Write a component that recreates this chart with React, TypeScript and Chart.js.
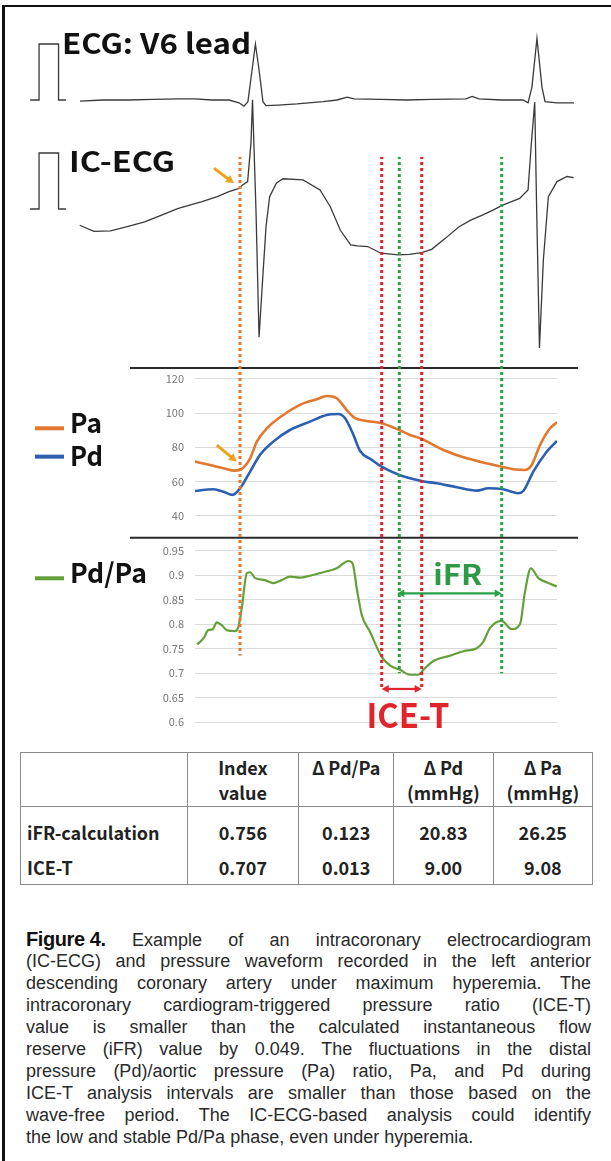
import React, { useEffect, useRef } from 'react';
import { Chart, registerables } from 'chart.js';
Chart.register(...registerables);

// ---------------- data (time in ms) ----------------
const T_END = 1300;

// Surface ECG, lead V6 (mV)
const v6Time = [-413, -330, -240, -150, -60, 0, 60, 122, 158, 176, 190, 205, 217, 230, 244, 255, 300, 366, 460, 510, 546, 571, 668, 760, 851, 973, 995, 1020, 1100, 1178, 1196, 1210, 1228, 1246, 1257, 1300, 1361];
const v6Values = [-0.02, 0.0, 0.0, 0.01, 0.02, 0.02, 0.0, 0.0, -0.05, -0.11, -0.03, 0.54, 1.0, 0.54, -0.03, -0.1, -0.09, -0.07, -0.03, 0.0, 0.05, 0.02, 0.01, 0.0, 0.01, 0.02, 0.065, 0.02, 0.0, 0.0, -0.05, 0.23, 1.1, 0.23, -0.03, -0.05, -0.05];

// Intracoronary ECG (mV)
const icTime = [-414, -363, -303, -240, -181, -120, -60, 25, 80, 122, 153, 162, 171, 189, 201, 206.5, 219, 230, 243.5, 255, 268, 292, 316, 388, 449, 486, 522, 559, 583, 620, 668, 729, 770, 814, 850, 900, 947, 990, 1032, 1070, 1105, 1166, 1196, 1208, 1220, 1227, 1237, 1251, 1269, 1300, 1336, 1360];
const icValues = [-0.29, -0.4, -0.39, -0.31, -0.23, -0.11, 0.01, 0.13, 0.22, 0.31, 0.36, 0.38, 0.43, 0.49, 1.18, 1.95, -0.02, -2.29, -1.21, -0.32, 0.22, 0.46, 0.54, 0.52, 0.34, 0.04, -0.38, -0.64, -0.66, -0.67, -0.79, -0.82, -0.81, -0.78, -0.72, -0.52, -0.32, -0.2, -0.11, -0.02, 0.07, 0.19, 0.34, 1.18, 1.91, -0.02, -2.48, -0.91, 0.22, 0.49, 0.58, 0.56];

// 1 mV calibration pulse
const calTime = [-592, -560, -560, -490, -490, -463];
const calValues = [0, 0, 1, 1, 0, 0];

// Aortic pressure Pa (mmHg)
const paTime = [0, 54, 102, 144, 168, 198, 222, 258, 317, 377, 437, 473, 509, 545, 575, 617, 670, 734, 772, 814, 892, 976, 1059, 1101, 1143, 1185, 1209, 1239, 1275, 1300];
const paValues = [71.6, 69.6, 67.7, 66.3, 67.3, 73.5, 83.3, 91.1, 98.9, 104.8, 108.1, 110.0, 108.7, 101.8, 97.0, 95.4, 94.1, 90.1, 87.2, 84.9, 78.4, 73.5, 70.2, 68.6, 67.1, 66.7, 69.6, 81.3, 91.1, 94.6];

// Distal pressure Pd (mmHg)
const pdTime = [0, 66, 102, 135, 162, 198, 233, 281, 341, 413, 473, 515, 539, 569, 593, 635, 670, 734, 814, 868, 940, 1012, 1053, 1101, 1137, 1161, 1179, 1215, 1263, 1300];
const pdValues = [54.4, 55.4, 54.0, 52.1, 56.0, 65.7, 75.5, 83.3, 90.1, 95.0, 98.9, 99.5, 97.0, 87.2, 77.8, 72.6, 68.6, 63.8, 60.3, 58.9, 56.6, 54.6, 56.0, 55.6, 54.0, 53.1, 54.4, 65.7, 77.4, 83.7];

// Pd/Pa ratio
const ratioTime = [8, 30, 48, 64, 78, 96, 114, 144, 156, 168, 186, 198, 216, 251, 281, 311, 341, 377, 413, 461, 509, 551, 566, 581, 599, 628, 670, 700, 736, 772, 802, 820, 856, 916, 964, 1012, 1035, 1059, 1101, 1137, 1167, 1185, 1206, 1233, 1269, 1299];
const ratioValues = [0.759, 0.771, 0.788, 0.79, 0.804, 0.798, 0.788, 0.786, 0.795, 0.833, 0.904, 0.906, 0.894, 0.89, 0.884, 0.89, 0.897, 0.895, 0.899, 0.906, 0.914, 0.929, 0.924, 0.873, 0.819, 0.785, 0.734, 0.716, 0.707, 0.697, 0.697, 0.707, 0.725, 0.736, 0.745, 0.751, 0.764, 0.792, 0.807, 0.79, 0.8, 0.866, 0.914, 0.894, 0.884, 0.877];

const pressureRange = [27.05, 126.4];
const ratioRange = [0.5537, 0.9765];

// Analysis markers: onset (orange), ICE-T window (red), iFR window (green)
const markerTimes = [161.6, 670.4, 733.6, 814.1, 1101.4];
const markerEnds = [0.736, 0.668, 0.7, 0.668, 0.7];
const markerColors = ['#E2792E', '#E0242A', '#2AA048', '#E0242A', '#2AA048'];
const iceWindow = [670.4, 814.1];
const ifrWindow = [733.6, 1101.4];

// Table
const tableHeaders = ['', 'Index\nvalue', 'Δ\u2009Pd/Pa', 'Δ\u2009Pd\n(mmHg)', 'Δ\u2009Pa\n(mmHg)'];
const tableRows = [
  ['iFR-calculation', '0.756', '0.123', '20.83', '26.25'],
  ['ICE-T', '0.707', '0.013', '9.00', '9.08'],
];

const captionLines = [
  'Example of an intracoronary electrocardiogram',
  '(IC-ECG) and pressure waveform recorded in the left anterior',
  'descending coronary artery under maximum hyperemia. The',
  'intracoronary cardiogram-triggered pressure ratio (ICE-T)',
  'value is smaller than the calculated instantaneous flow',
  'reserve (iFR) value by 0.049. The fluctuations in the distal',
  'pressure (Pd)/aortic pressure (Pa) ratio, Pa, and Pd during',
  'ICE-T analysis intervals are smaller than those based on the',
  'wave-free period. The IC-ECG-based analysis could identify',
  'the low and stable Pd/Pa phase, even under hyperemia.',
];

// ---------------- layout ----------------
const W = 611;
const ECG_H = 360;
const PB_TOP = 360;
const PB_H = 385;
const PLOT_L = 195;
const PLOT_R = 557;
const MS_PER_PX = T_END / (PLOT_R - PLOT_L);
const PX_PER_MV = 56;
const V6_ZERO_Y = 100;
const IC_ZERO_Y = 209;
const MARKER_TOP_MV = 0.93;

const JP = '"Noto Sans CJK JP", "Noto Sans", sans-serif';
const TRACE = '#3a3a3a';
const ARROW_ORANGE = '#F0A21E';

function toXY(t: number[], v: number[]) {
  return t.map((x, i) => ({ x, y: v[i] }));
}

function dottedV(ctx: CanvasRenderingContext2D, x: number, y1: number, y2: number, color: string, pageOffset: number) {
  ctx.save();
  ctx.strokeStyle = color;
  ctx.lineWidth = 3;
  ctx.setLineDash([3, 3]);
  ctx.lineDashOffset = (y1 + pageOffset) % 6;
  ctx.beginPath();
  ctx.moveTo(x, y1);
  ctx.lineTo(x, y2);
  ctx.stroke();
  ctx.restore();
}

function arrow(ctx: CanvasRenderingContext2D, x1: number, y1: number, x2: number, y2: number, color: string, lw: number, head: number, both: boolean) {
  ctx.save();
  ctx.strokeStyle = color;
  ctx.fillStyle = color;
  ctx.lineWidth = lw;
  const a = Math.atan2(y2 - y1, x2 - x1);
  const c = Math.cos(a), s = Math.sin(a);
  const sx = both ? x1 + c * head * 0.7 : x1;
  const sy = both ? y1 + s * head * 0.7 : y1;
  ctx.beginPath();
  ctx.moveTo(sx, sy);
  ctx.lineTo(x2 - c * head * 0.7, y2 - s * head * 0.7);
  ctx.stroke();
  const tip = (x: number, y: number, ang: number) => {
    ctx.beginPath();
    ctx.moveTo(x, y);
    ctx.lineTo(x - head * Math.cos(ang - 0.5), y - head * Math.sin(ang - 0.5));
    ctx.lineTo(x - head * Math.cos(ang + 0.5), y - head * Math.sin(ang + 0.5));
    ctx.closePath();
    ctx.fill();
  };
  tip(x2, y2, a);
  if (both) tip(x1, y1, a + Math.PI);
  ctx.restore();
}

function fitText(ctx: CanvasRenderingContext2D, text: string, x: number, baseline: number, width: number, font: string, color: string, align: 'left' | 'center' = 'left') {
  ctx.save();
  ctx.font = font;
  ctx.fillStyle = color;
  ctx.textBaseline = 'alphabetic';
  ctx.textAlign = 'left';
  const w = ctx.measureText(text).width;
  const left = align === 'center' ? x - width / 2 : x;
  ctx.translate(left, baseline);
  ctx.scale(width / w, 1);
  ctx.fillText(text, 0, 0);
  ctx.restore();
}

const ecgPlugin = {
  id: 'ecgDecor',
  afterDatasetsDraw(chart: any) {
    const ctx = chart.ctx as CanvasRenderingContext2D;
    const x = chart.scales.x, yIC = chart.scales.yIC;
    const top = yIC.getPixelForValue(MARKER_TOP_MV);
    markerTimes.forEach((t, i) => dottedV(ctx, x.getPixelForValue(t), top, chart.height, markerColors[i], 0));
    arrow(ctx, x.getPixelForValue(68), yIC.getPixelForValue(0.73), x.getPixelForValue(140), yIC.getPixelForValue(0.46), ARROW_ORANGE, 3, 9, false);
    fitText(ctx, 'ECG: V6 lead', 62, 54, 189, `bold 28px ${JP}`, '#111');
    fitText(ctx, 'IC-ECG', 69, 172, 106, `bold 28px ${JP}`, '#111');
  },
};

const pressPlugin = {
  id: 'pressDecor',
  afterDatasetsDraw(chart: any) {
    const ctx = chart.ctx as CanvasRenderingContext2D;
    const x = chart.scales.x, yP = chart.scales.yP, yR = chart.scales.yR;
    // panel separators
    ctx.save();
    ctx.strokeStyle = '#2a2a2a';
    ctx.lineWidth = 2;
    [yP.top, yR.top].forEach((y: number) => {
      ctx.beginPath();
      ctx.moveTo(130, y);
      ctx.lineTo(578, y);
      ctx.stroke();
    });
    ctx.restore();
    // dotted markers
    markerTimes.forEach((t, i) => dottedV(ctx, x.getPixelForValue(t), 0, yR.getPixelForValue(markerEnds[i]), markerColors[i], PB_TOP));
    // arrows
    arrow(ctx, x.getPixelForValue(78), yP.getPixelForValue(81.3), x.getPixelForValue(150), yP.getPixelForValue(71.6), ARROW_ORANGE, 3, 9, false);
    const yIfr = yR.getPixelForValue(0.863);
    arrow(ctx, x.getPixelForValue(ifrWindow[0]) - 2, yIfr, x.getPixelForValue(ifrWindow[1]), yIfr, '#2AA048', 2.2, 8, true);
    const yIce = yR.getPixelForValue(0.668);
    arrow(ctx, x.getPixelForValue(iceWindow[0]), yIce, x.getPixelForValue(iceWindow[1]), yIce, '#E0242A', 2.2, 8, true);
    fitText(ctx, 'iFR', x.getPixelForValue(944), yR.getPixelForValue(0.88), 49, `bold 28px ${JP}`, '#2E9A45', 'center');
    fitText(ctx, 'ICE-T', x.getPixelForValue(765), yR.getPixelForValue(0.5883), 83, `bold 34px ${JP}`, '#E0242A', 'center');
    // legend
    const leg = (label: string, color: string, yLine: number, yBase: number, w: number) => {
      ctx.save();
      ctx.strokeStyle = color;
      ctx.lineWidth = 4;
      ctx.beginPath();
      ctx.moveTo(35, yLine);
      ctx.lineTo(64, yLine);
      ctx.stroke();
      ctx.restore();
      fitText(ctx, label, 70, yBase, w, `bold 27px ${JP}`, '#111');
    };
    leg('Pa', '#E2772E', yP.getPixelForValue(91.1), yP.getPixelForValue(88.4), 32);
    leg('Pd', '#2C5FB0', yP.getPixelForValue(74.5), yP.getPixelForValue(69.0), 33);
    leg('Pd/Pa', '#63A03A', yR.getPixelForValue(0.8937), yR.getPixelForValue(0.884), 77);
  },
};

const tickFont = { family: JP, size: 11 };

export default function App() {
  const ecgRef = useRef<HTMLCanvasElement>(null);
  const pRef = useRef<HTMLCanvasElement>(null);

  useEffect(() => {
    const ecg = new Chart(ecgRef.current as HTMLCanvasElement, {
      type: 'line',
      data: {
        datasets: [
          { data: toXY(v6Time, v6Values), yAxisID: 'yV6', borderColor: TRACE, borderWidth: 1.3, pointRadius: 0 },
          { data: toXY(calTime, calValues), yAxisID: 'yV6', borderColor: TRACE, borderWidth: 1.3, pointRadius: 0 },
          { data: toXY(icTime, icValues), yAxisID: 'yIC', borderColor: TRACE, borderWidth: 1.3, pointRadius: 0 },
          { data: toXY(calTime, calValues), yAxisID: 'yIC', borderColor: TRACE, borderWidth: 1.3, pointRadius: 0 },
        ],
      },
      options: {
        animation: false,
        responsive: false,
        events: [],
        layout: { padding: 0 },
        plugins: { legend: { display: false }, tooltip: { enabled: false } },
        scales: {
          x: { type: 'linear', min: -PLOT_L * MS_PER_PX, max: (W - PLOT_L) * MS_PER_PX, display: false },
          yV6: { type: 'linear', min: V6_ZERO_Y / PX_PER_MV - ECG_H / PX_PER_MV, max: V6_ZERO_Y / PX_PER_MV, display: false },
          yIC: { type: 'linear', min: IC_ZERO_Y / PX_PER_MV - ECG_H / PX_PER_MV, max: IC_ZERO_Y / PX_PER_MV, display: false },
        },
      },
      plugins: [ecgPlugin],
    } as any);

    const fit = (s: any) => {
      s.width = PLOT_L;
      s.paddingTop = 0;
      s.paddingBottom = 0;
    };
    const press = new Chart(pRef.current as HTMLCanvasElement, {
      type: 'line',
      data: {
        datasets: [
          { data: toXY(paTime, paValues), yAxisID: 'yP', borderColor: '#E2772E', borderWidth: 2.6, pointRadius: 0, cubicInterpolationMode: 'monotone' },
          { data: toXY(pdTime, pdValues), yAxisID: 'yP', borderColor: '#2C5FB0', borderWidth: 2.6, pointRadius: 0, cubicInterpolationMode: 'monotone' },
          { data: toXY(ratioTime, ratioValues), yAxisID: 'yR', borderColor: '#63A03A', borderWidth: 2.2, pointRadius: 0, cubicInterpolationMode: 'monotone' },
        ],
      },
      options: {
        animation: false,
        responsive: false,
        events: [],
        layout: { padding: { top: 8, right: W - PLOT_R, left: 0, bottom: 0 } },
        plugins: { legend: { display: false }, tooltip: { enabled: false } },
        scales: {
          x: { type: 'linear', min: 0, max: T_END, display: false },
          yR: {
            type: 'linear', position: 'left', stack: 'panels', stackWeight: 207.3,
            min: ratioRange[0], max: ratioRange[1],
            ticks: { stepSize: 0.05, includeBounds: false, autoSkip: false, padding: 11, color: '#767676', font: tickFont, callback: (v: any) => String(Number(Number(v).toFixed(2))) },
            grid: { color: '#dadada', drawTicks: false },
            border: { display: false },
            afterFit: fit,
          },
          yP: {
            type: 'linear', position: 'left', stack: 'panels', stackWeight: 169.7,
            min: pressureRange[0], max: pressureRange[1],
            ticks: { stepSize: 20, includeBounds: false, autoSkip: false, padding: 11, color: '#767676', font: tickFont },
            grid: { color: '#dadada', drawTicks: false },
            border: { display: false },
            afterFit: fit,
          },
        },
      },
      plugins: [pressPlugin],
    } as any);

    return () => {
      ecg.destroy();
      press.destroy();
    };
  }, []);

  const colW = [166.5, 111.7, 95, 99.4, 99.4];
  const cellBorder = '1px solid #8a8a8a';

  return (
    <div style={{ position: 'absolute', left: 0, top: 0, width: W, height: 1161, background: '#fff', overflow: 'hidden' }}>
      <div style={{ position: 'absolute', left: 2, top: 5, width: W - 2, height: 2, background: '#111' }} />
      <div style={{ position: 'absolute', left: 2, top: 5, width: 3, height: 1161, background: '#111' }} />
      <canvas ref={ecgRef} width={W} height={ECG_H} style={{ position: 'absolute', left: 0, top: 0, width: W, height: ECG_H }} />
      <canvas ref={pRef} width={W} height={PB_H} style={{ position: 'absolute', left: 0, top: PB_TOP, width: W, height: PB_H }} />

      <table style={{ position: 'absolute', left: 20, top: 752, width: 573, borderCollapse: 'collapse', tableLayout: 'fixed', fontFamily: JP, fontWeight: 700, fontSize: 18, color: '#222', border: cellBorder }}>
        <colgroup>
          {colW.map((w, i) => <col key={i} style={{ width: w }} />)}
        </colgroup>
        <tbody>
          <tr>
            {tableHeaders.map((h, i) => (
              <td key={i} style={{ height: 54, boxSizing: 'border-box', verticalAlign: 'top', textAlign: 'center', padding: '2px 0 0', lineHeight: '25px', borderLeft: cellBorder, borderBottom: cellBorder, whiteSpace: 'pre' }}>{h}</td>
            ))}
          </tr>
          {tableRows.map((r, ri) => (
            <tr key={ri}>
              {r.map((c, ci) => (
                <td key={ci} style={{ padding: ri === 0 ? '12px 0 0' : '9px 0 4px', lineHeight: '26px', textAlign: ci === 0 ? 'left' : 'center', paddingLeft: ci === 0 ? 6 : 0, borderLeft: cellBorder, whiteSpace: 'nowrap' }}>{c}</td>
              ))}
            </tr>
          ))}
        </tbody>
      </table>

      <div style={{ position: 'absolute', left: 26, top: 928, width: 565, fontFamily: '"Liberation Sans", Arial, sans-serif', fontSize: 18, color: '#2a2a2a' }}>
        {captionLines.map((line, i) => (
          <div key={i} style={{ height: 22, lineHeight: '22px', textAlign: i === captionLines.length - 1 ? 'left' : 'justify', textAlignLast: i === captionLines.length - 1 ? 'left' : 'justify', whiteSpace: 'nowrap' } as any}>
            {i === 0 ? <><span style={{ display: 'inline-block', fontWeight: 700, fontSize: 20, letterSpacing: -0.4, color: '#111' }}>Figure 4.</span>{'  '}</> : null}
            {line}
          </div>
        ))}
      </div>
    </div>
  );
}
